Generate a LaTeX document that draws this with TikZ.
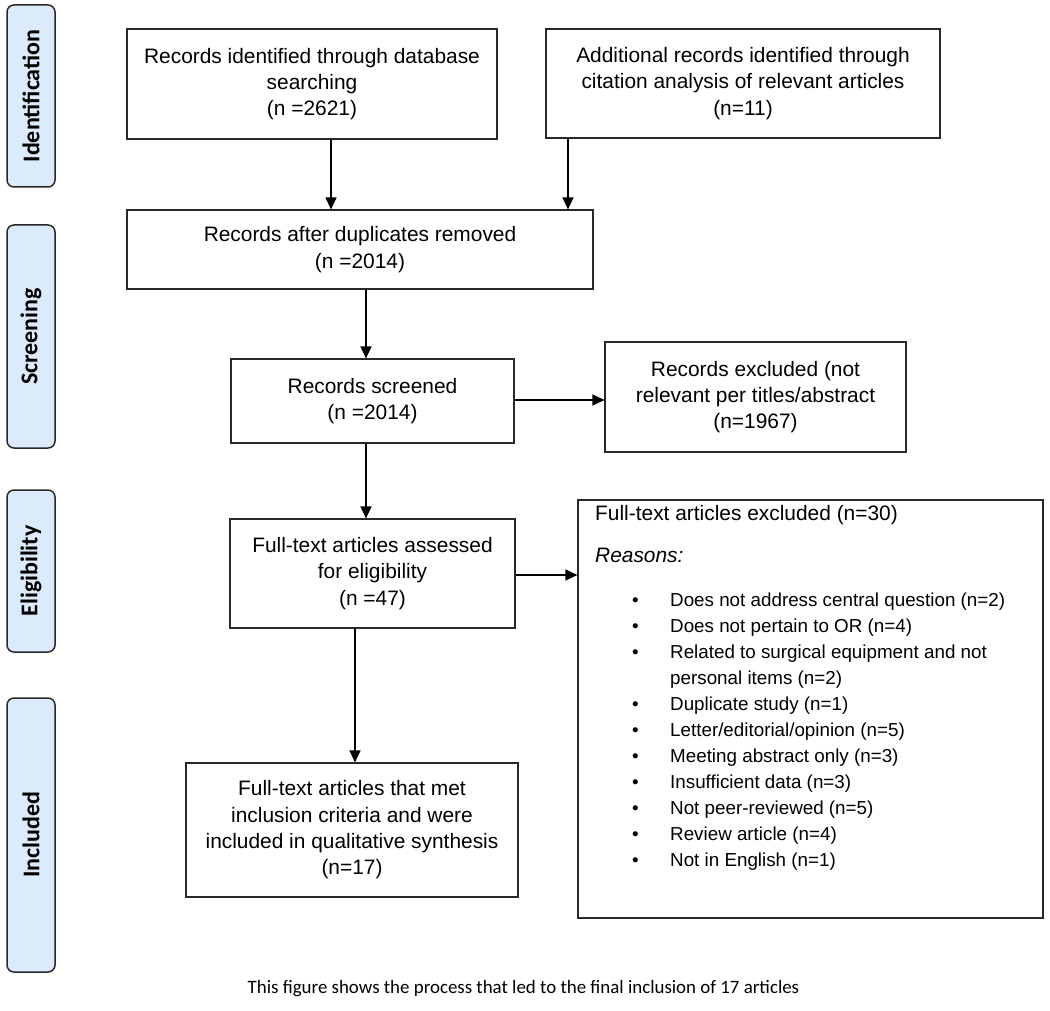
\documentclass[tikz,border=0pt]{standalone}
\usepackage{fontspec}
\setmainfont{Liberation Sans}
\newfontfamily\carlito{Carlito}
\usetikzlibrary{arrows.meta}
\definecolor{sideblue}{RGB}{220,235,251}
\definecolor{edge}{RGB}{40,40,40}
\newcommand\bxfont{\fontsize{20.9}{26.3}\selectfont}
\newcommand\lsfont{\fontsize{18.8}{26}\selectfont}
\newcommand\sdfont{\carlito\bfseries\fontsize{24}{28}\selectfont}
\newcommand\cpfont{\carlito\fontsize{18.9}{22}\selectfont}
\newcommand\rbul{\makebox[37pt][l]{\hspace*{-1pt}•}}
\begin{document}
\begin{tikzpicture}[x=1pt,y=-1pt,
  box/.style={draw=edge, line width=1.2pt, align=center, font=\bxfont, inner sep=0pt},
  side/.style={draw=edge, line width=1.5pt, fill=sideblue, rounded corners=7pt, font=\sdfont, inner sep=0pt, rotate=90},
  arr/.style={line width=1.4pt, -{Triangle[length=12pt,width=11pt]}},
  txt/.style={font=\bxfont, inner sep=0pt}]
\useasboundingbox (0,0) rectangle (1050,1011);
% side labels
\node[side, minimum width=182pt, minimum height=48pt] (sidI) at (31,96) {Identification};
\node[side, minimum width=223pt, minimum height=48pt] (sidS) at (31,336.5) {Screening};
\node[side, minimum width=162pt, minimum height=48pt] (sidE) at (31,571) {Eligibility};
\node[side, minimum width=274pt, minimum height=48pt] (sidN) at (31,835) {Included};
% boxes
\node[box, minimum width=370pt, minimum height=110pt] (db) at (312,84)
  {Records identified through database\\searching\\(n =2621)};
\node[box, minimum width=394pt, minimum height=109pt] (cit) at (743,83.5)
  {Additional records identified through\\citation analysis of relevant articles\\(n=11)};
\node[box, minimum width=466pt, minimum height=79pt] (dup) at (360,249.5)
  {Records after duplicates removed\\(n =2014)};
\node[box, minimum width=283pt, minimum height=84pt] (scr) at (372.5,401)
  {Records screened\\(n =2014)};
\node[box, minimum width=301pt, minimum height=110pt] (exc) at (755.5,397)
  {Records excluded (not\\relevant per titles/abstract\\(n=1967)};
\node[box, minimum width=285pt, minimum height=109pt] (elig) at (372.5,573.5)
  {Full-text articles assessed\\for eligibility\\(n =47)};
\node[box, minimum width=465pt, minimum height=418pt] (ftx) at (810.5,709) {};
\node[box, minimum width=332pt, minimum height=134pt] (incl) at (352,830)
  {Full-text articles that met\\inclusion criteria and were\\included in qualitative synthesis\\(n=17)};
% excluded full-text contents
\node[txt, anchor=base west] (fth) at (595,520) {Full-text articles excluded (n=30)};
\node[txt, anchor=base west] (rsn) at (595,562) {\itshape Reasons:};
\node[inner sep=0pt, font=\lsfont, anchor=north west, align=left] (lst) at (633,588)
  {\strut\rbul Does not address central question (n=2)\\
   \rbul Does not pertain to OR (n=4)\\
   \rbul Related to surgical equipment and not\\
   \hspace*{37pt}personal items (n=2)\\
   \rbul Duplicate study (n=1)\\
   \rbul Letter/editorial/opinion (n=5)\\
   \rbul Meeting abstract only (n=3)\\
   \rbul Insufficient data (n=3)\\
   \rbul Not peer-reviewed (n=5)\\
   \rbul Review article (n=4)\\
   \rbul Not in English (n=1)};
% caption
\node[font=\cpfont, inner sep=0pt] (cap) at (523.5,989)
  {This figure shows the process that led to the final inclusion of 17 articles};
% connectors
\coordinate (ax1) at (331,0);
\coordinate (ax2) at (568,0);
\coordinate (ax3) at (366,0);
\coordinate (ax4) at (355,0);
\coordinate (ay1) at (0,400);
\coordinate (ay2) at (0,575);
\draw[arr] (db.south -| ax1) -- (dup.north -| ax1);
\draw[arr] (cit.south -| ax2) -- (dup.north -| ax2);
\draw[arr] (dup.south -| ax3) -- (scr.north -| ax3);
\draw[arr] (scr.east |- ay1) -- (exc.west |- ay1);
\draw[arr] (scr.south -| ax3) -- (elig.north -| ax3);
\draw[arr] (elig.east |- ay2) -- (ftx.west |- ay2);
\draw[arr] (elig.south -| ax4) -- (incl.north -| ax4);
\end{tikzpicture}
\end{document}
